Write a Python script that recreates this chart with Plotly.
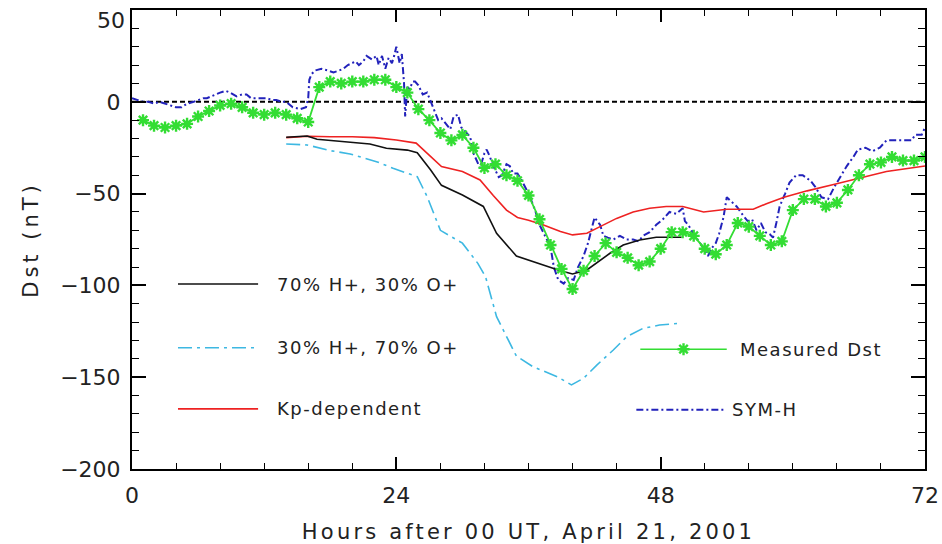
import plotly.graph_objects as go

# ---- Measured Dst (hourly) ----
dst_hours = list(range(1, 73))
dst_values = [
    -10, -13, -14, -13, -12, -8, -5, -2, -1, -3,
    -6, -7, -6, -7, -9, -11, 8, 11, 10, 11,
    11, 12, 12, 8, 5, -4, -10, -17, -21, -18,
    -25, -36, -34, -40, -43, -51, -64, -78, -91, -102,
    -92, -84, -77, -82, -85, -89, -87, -80, -71, -71,
    -73, -80, -83, -78, -66, -68, -73, -78, -76, -59,
    -53, -53, -57, -55, -48, -40, -34, -33, -30, -32,
    -32, -30,
]

# ---- SYM-H ----
symh_hours = [
    0.0, 0.5, 1.0, 1.5, 2.0, 2.5, 3.0, 3.5, 4.0, 4.5, 5.0, 5.6, 6.0, 6.5, 6.8,
    7.5, 8.0, 8.5, 8.9, 9.5, 10.0, 10.4, 10.8, 11.3, 11.8, 12.2, 12.7, 13.1,
    13.6, 14.0, 14.6, 15.3, 15.8, 16.0, 16.1, 16.3, 16.6, 17.2, 17.8, 18.3,
    18.8, 19.2, 19.6, 19.9, 20.3, 20.6, 21.0, 21.3, 21.6, 21.8, 22.2, 22.4,
    22.7, 23.0, 23.3, 23.6, 23.8, 24.0, 24.1, 24.3, 24.5, 24.7, 24.8, 24.9,
    25.0, 25.2, 25.5, 25.7, 26.0, 26.4, 26.8, 27.2, 27.5, 27.8, 28.1, 28.5,
    28.9, 29.2, 29.6, 29.9, 30.2, 30.7, 31.0, 31.3, 31.6, 32.0, 32.2, 32.5,
    32.8, 33.3, 33.6, 34.0, 34.3, 34.6, 35.0, 35.4, 36.0, 36.6, 37.0, 37.5,
    38.0, 38.3, 38.7, 39.2, 39.6, 40.1, 40.5, 41.0, 41.4, 41.7, 42.0, 42.5,
    42.8, 43.2, 43.7, 44.3, 44.9, 45.5, 46.0, 46.4, 47.0, 47.6, 48.2, 48.8,
    49.4, 50.0, 50.2, 50.5, 51.1, 51.7, 52.3, 52.6, 53.0, 53.3, 53.7, 54.0,
    54.4, 54.9, 55.5, 55.9, 56.3, 56.7, 57.1, 57.5, 57.9, 58.2, 58.5, 58.8,
    59.3, 59.7, 60.3, 60.9, 61.6, 62.0, 62.6, 63.2, 63.8, 64.3, 64.9, 65.5,
    65.9, 66.6, 67.2, 67.9, 68.5, 69.1, 70.0, 70.8, 71.1, 71.7, 72.0,
]
symh_values = [
    2, 1, 0, 0, -1, 0, -1, -2, -3, -3, -1, 0, 1, 2, 2,
    4, 5, 6, 5, 3, 4, 4, 2, 2, 2, 2, 1, 1,
    0, 0, -3, -4, -3, 2, 12, 15, 17, 18, 17, 16,
    17, 18, 20, 21, 22, 20, 22, 25, 24, 23, 25, 20,
    25, 18, 24, 21, 25, 30, 27, 21, 26, 10, -8, -2,
    8, 7, 11, 11, 9, 4, 5, -1, -5, -10, -9, -12,
    -15, -8, -7, -14, -16, -19, -28, -32, -36, -28, -26, -30,
    -35, -41, -40, -34, -35, -39, -39, -43, -50, -59, -67, -73,
    -79, -90, -97, -99, -96, -97, -90, -84, -77, -70, -63, -67,
    -73, -74, -75, -73, -75, -75, -76, -73, -71, -67, -64, -60,
    -61, -58, -65, -67, -73, -78, -84, -80, -77, -72, -63, -52,
    -54, -57, -62, -65, -64, -70, -66, -71, -72, -74, -66, -57,
    -50, -44, -40, -40, -43, -46, -52, -53, -46, -41, -35, -30,
    -26, -25, -27, -25, -21, -21, -21, -21, -18, -18, -14,
]

# ---- Model: 70% H+, 30% O+ ----
mix70h_hours = [14.0, 15.9, 16.8, 19.5, 21.6, 23.1, 25.0, 25.9, 27.1, 28.1,
                30.0, 31.9, 33.1, 34.9, 37.3, 38.9, 40.0, 41.3, 43.4, 44.6,
                46.1, 47.6, 49.9]
mix70h_values = [-19.3, -18.6, -20.4, -21.7, -23.0, -25.3, -26.3, -27.7, -37.0, -45.5,
                 -50.8, -57.0, -71.6, -84.0, -89.0, -92.0, -93.8, -91.6, -82.5, -78.0,
                 -75.3, -73.8, -73.8]

# ---- Model: 30% H+, 70% O+ ----
mix30h_hours = [14.0, 15.9, 18.0, 19.8, 22.2, 23.7, 25.9, 26.8, 28.0, 30.0,
                31.4, 32.1, 33.1, 34.3, 34.9, 36.4, 38.6, 39.9, 41.0, 42.2,
                43.7, 44.9, 46.4, 47.9, 49.8]
mix30h_values = [-23.0, -23.5, -26.6, -28.4, -32.6, -36.2, -40.8, -51.7, -70.0, -77.0,
                 -88.0, -95.3, -117.0, -131.5, -138.5, -144.3, -149.7, -154.2, -150.6, -143.4,
                 -135.2, -128.0, -123.4, -121.6, -120.6]

# ---- Model: Kp-dependent ----
kp_hours = [14.0, 16.0, 18.0, 20.0, 22.0, 24.0, 25.8, 26.8, 28.1, 30.0,
            31.6, 32.8, 34.0, 35.0, 36.0, 37.3, 38.9, 40.0, 41.3, 42.5,
            44.0, 45.5, 47.0, 48.5, 50.0, 51.9, 54.0, 56.4, 57.6, 59.2,
            61.3, 63.7, 66.1, 68.5, 72.0]
kp_values = [-19.5, -18.8, -19.0, -19.0, -19.5, -20.8, -22.5, -28.0, -35.3, -38.0,
             -42.6, -51.0, -59.0, -63.0, -64.5, -67.0, -70.7, -72.5, -71.6, -68.0,
             -63.5, -60.0, -58.0, -57.0, -57.0, -60.0, -58.5, -58.5, -55.5, -52.0,
             -48.5, -45.0, -41.7, -38.0, -35.0]

# ---- Axis ticks ----
x_ticks = [0, 24, 48, 72]
y_ticks = [50, 0, -50, -100, -150, -200]
y_top = y_ticks[0]

# ---- Styles ----
BLACK = "#111111"
CYAN = "#3DB8E2"
RED = "#EE2222"
GREEN = "#33DD33"
BLUE = "#2222BB"
TEXT = "#222222"
FONT = "DejaVu Sans"
CYAN_DASH = "14px,5px,3px,5px"
BLUE_DASH = "7px,3px,2px,3px"
STAR = dict(symbol="asterisk-open", size=10, color=GREEN, line=dict(color=GREEN, width=2.4))


def spaced(text, px):
    return f'<span style="letter-spacing:{px}px">{text}</span>'


def tick_text(v):
    return str(v).replace("-", "\u2212")


fig = go.Figure()

# zero reference line
fig.add_trace(go.Scatter(x=[0, 72], y=[0, 0], mode="lines",
                         line=dict(color="black", width=2, dash="5px,3px"),
                         hoverinfo="skip"))

fig.add_trace(go.Scatter(x=symh_hours, y=symh_values, mode="lines", name="SYM-H",
                         line=dict(color=BLUE, width=2, dash=BLUE_DASH)))
fig.add_trace(go.Scatter(x=mix30h_hours, y=mix30h_values, mode="lines",
                         name="30% H+, 70% O+",
                         line=dict(color=CYAN, width=1.6, dash=CYAN_DASH)))
fig.add_trace(go.Scatter(x=kp_hours, y=kp_values, mode="lines", name="Kp-dependent",
                         line=dict(color=RED, width=1.6)))
fig.add_trace(go.Scatter(x=mix70h_hours, y=mix70h_values, mode="lines",
                         name="70% H+, 30% O+",
                         line=dict(color=BLACK, width=1.6)))
fig.add_trace(go.Scatter(x=dst_hours, y=dst_values, mode="lines+markers",
                         name="Measured Dst",
                         line=dict(color=GREEN, width=1.8), marker=STAR))

# ---- In-plot key (drawn on a hidden 0..1 overlay axis pair) ----
key_rows = [
    # label, color, dash, marker, x0, x1, y, text_x
    ("70% H+, 30% O+", BLACK, "solid", False, 0.058, 0.159, 0.403, 0.180),
    ("30% H+, 70% O+", CYAN, CYAN_DASH, False, 0.058, 0.159, 0.264, 0.180),
    ("Kp-dependent", RED, "solid", False, 0.058, 0.159, 0.131, 0.180),
    ("Measured Dst", GREEN, "solid", True, 0.641, 0.750, 0.261, 0.764),
    ("SYM-H", BLUE, BLUE_DASH, False, 0.636, 0.747, 0.129, 0.754),
]
for label, color, dash, with_marker, x0, x1, yk, tx in key_rows:
    fig.add_trace(go.Scatter(x=[x0, x1], y=[yk, yk], mode="lines", xaxis="x2", yaxis="y2",
                             line=dict(color=color, width=2 if color == BLUE else 1.6, dash=dash),
                             hoverinfo="skip"))
    if with_marker:
        fig.add_trace(go.Scatter(x=[(x0 + x1) / 2], y=[yk], mode="markers", xaxis="x2", yaxis="y2",
                                 marker=STAR, hoverinfo="skip"))
    fig.add_annotation(x=tx, y=yk, xref="paper", yref="paper", text=spaced(label, 1.5),
                       showarrow=False, xanchor="left", yanchor="middle",
                       font=dict(family=FONT, size=18, color=TEXT))

# the top y label sits just inside the page, below its tick
fig.add_annotation(x=0, y=y_top, xref="paper", yref="y", text=tick_text(y_top),
                   showarrow=False, xanchor="right", yanchor="top", xshift=-5, yshift=4,
                   font=dict(family=FONT, size=22, color=TEXT))

fig.update_layout(
    width=942, height=544,
    margin=dict(l=132, r=17, t=10, b=75),
    paper_bgcolor="white", plot_bgcolor="white",
    showlegend=False,
    font=dict(family=FONT, color=TEXT),
    xaxis=dict(
        range=[0, 72], tickmode="array", tickvals=x_ticks,
        ticktext=[str(v) for v in x_ticks],
        ticks="inside", ticklen=12, tickwidth=1.5, tickcolor="black",
        minor=dict(dtick=4, tick0=0, ticks="inside", ticklen=6, tickwidth=1.2, tickcolor="black"),
        showline=True, linecolor="black", linewidth=2, mirror="ticks",
        showgrid=False, zeroline=False, automargin=False,
        ticklabeloverflow="allow", ticklabelstandoff=6,
        tickfont=dict(size=22, family=FONT, color=TEXT),
        title=dict(text=spaced("Hours after 00 UT, April 21, 2001", 3.2),
                   font=dict(size=21, family=FONT, color=TEXT), standoff=18),
    ),
    yaxis=dict(
        range=[-200, 50], tickmode="array", tickvals=y_ticks,
        ticktext=["" if v == y_top else tick_text(v) for v in y_ticks],
        ticks="inside", ticklen=14, tickwidth=1.5, tickcolor="black",
        minor=dict(dtick=10, tick0=0, ticks="inside", ticklen=7, tickwidth=1.2, tickcolor="black"),
        showline=True, linecolor="black", linewidth=2, mirror="ticks",
        showgrid=False, zeroline=False, automargin=False,
        ticklabeloverflow="allow", ticklabelstandoff=5,
        tickfont=dict(size=22, family=FONT, color=TEXT),
        title=dict(text=spaced("Dst (nT)", 4), font=dict(size=21, family=FONT, color=TEXT),
                   standoff=16),
    ),
    xaxis2=dict(overlaying="x", range=[0, 1], visible=False),
    yaxis2=dict(overlaying="y", range=[0, 1], visible=False),
)

fig.write_html("out.html")
